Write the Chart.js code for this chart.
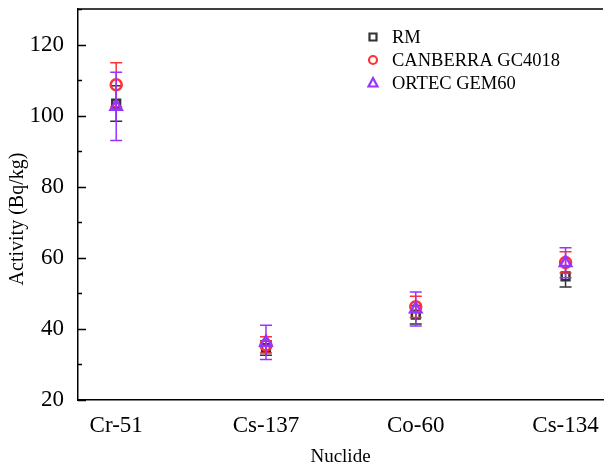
<!DOCTYPE html>
<html>
<head>
<meta charset="utf-8">
<script src="https://cdn.jsdelivr.net/npm/chart.js@4.4.1/dist/chart.umd.min.js"></script>
<style>
  html, body { margin: 0; padding: 0; background: #fff; }
  #wrap { width: 612px; height: 468px; }
</style>
</head>
<body>
<div id="wrap"><canvas id="nuclideChart" width="612" height="468"></canvas></div>
<script>
// nuclides on the x axis
var nuclides = ['Cr-51', 'Cs-137', 'Co-60', 'Cs-134'];

// activity values (Bq/kg) and their uncertainties
var rmValues = [103.4, 34.6, 44.0, 54.8];
var rmErrors = [5.0, 2.0, 2.6, 3.0];
var canberraValues = [108.7, 35.5, 46.2, 58.7];
var canberraErrors = [6.2, 2.3, 3.0, 3.0];
var ortecValues = [102.6, 36.2, 45.6, 58.6];
var ortecErrors = [9.6, 4.8, 4.8, 4.2];

var yTicks = [20, 40, 60, 80, 100, 120];

var serif = "'Liberation Serif', 'Times New Roman', serif";

function toPoints(values) {
    return values.map(function (v, i) { return { x: i + 1, y: v }; });
}

var errorBars = {
    id: 'errorBars',
    afterDatasetDraw: function (chart, args) {
        var ds = chart.data.datasets[args.index];
        if (!ds.errors) return;
        var ctx = chart.ctx;
        var xs = chart.scales.x, ys = chart.scales.y;
        ctx.save();
        ctx.strokeStyle = ds.borderColor;
        ctx.lineWidth = 1.5;
        ds.data.forEach(function (p, i) {
            var px = xs.getPixelForValue(p.x);
            var top = ys.getPixelForValue(p.y + ds.errors[i]);
            var bot = ys.getPixelForValue(p.y - ds.errors[i]);
            ctx.beginPath();
            ctx.moveTo(px, top); ctx.lineTo(px, bot);
            ctx.moveTo(px - 6, top); ctx.lineTo(px + 6, top);
            ctx.moveTo(px - 6, bot); ctx.lineTo(px + 6, bot);
            ctx.stroke();
        });
        ctx.restore();
    }
};

var frame = {
    id: 'frame',
    afterDraw: function (chart) {
        var ctx = chart.ctx, a = chart.chartArea, ys = chart.scales.y;
        ctx.save();
        ctx.strokeStyle = '#000';
        ctx.lineWidth = 1.5;
        ctx.beginPath();
        ctx.moveTo(a.left, a.top); ctx.lineTo(a.right, a.top);
        // inward ticks on the y axis
        for (var v = 20; v <= 130; v += 10) {
            var py = Math.round(ys.getPixelForValue(v)) + 0.5;
            var len = (v % 20 === 0) ? 8 : 4;
            ctx.moveTo(a.left, py); ctx.lineTo(a.left + len, py);
        }
        ctx.stroke();

        // y axis title, sits a bit below the middle like the original
        ctx.save();
        ctx.translate(18, 219);
        ctx.rotate(-Math.PI / 2);
        ctx.font = '20px ' + serif;
        ctx.textAlign = 'center';
        ctx.textBaseline = 'middle';
        ctx.fillStyle = '#000';
        ctx.fillText('Activity (Bq/kg)', 0, 0);
        ctx.restore();

        // legend
        var items = chart.data.datasets;
        ctx.font = '18.5px ' + serif;
        ctx.textBaseline = 'middle';
        ctx.fillStyle = '#000';
        items.forEach(function (ds, i) {
            var y = 37 + i * 23;
            var x = 373;
            ctx.strokeStyle = ds.borderColor;
            ctx.lineWidth = 2.2;
            ctx.beginPath();
            if (ds.pointStyle === 'rect') {
                ctx.rect(x - 3.5, y - 3.5, 7, 7);
            } else if (ds.pointStyle === 'circle') {
                ctx.arc(x, y, 4, 0, Math.PI * 2);
            } else {
                ctx.moveTo(x, y - 5); ctx.lineTo(x + 4.5, y + 3.5); ctx.lineTo(x - 4.5, y + 3.5); ctx.closePath();
            }
            ctx.stroke();
            ctx.fillText(ds.label, 392, y + 1);
        });
        ctx.restore();
    }
};

new Chart(document.getElementById('nuclideChart'), {
    type: 'scatter',
    data: {
        datasets: [{
            label: 'RM',
            data: toPoints(rmValues),
            errors: rmErrors,
            pointStyle: 'rect',
            pointRadius: 5.5,
            borderColor: '#333333',
            backgroundColor: 'rgba(0,0,0,0)',
            borderWidth: 2.5,
            order: 3
        }, {
            label: 'CANBERRA GC4018',
            data: toPoints(canberraValues),
            errors: canberraErrors,
            pointStyle: 'circle',
            pointRadius: 5.5,
            borderColor: '#ff3333',
            backgroundColor: 'rgba(0,0,0,0)',
            borderWidth: 2.5,
            order: 2
        }, {
            label: 'ORTEC GEM60',
            data: toPoints(ortecValues),
            errors: ortecErrors,
            pointStyle: 'triangle',
            pointRadius: 6.5,
            borderColor: '#9933ff',
            backgroundColor: 'rgba(0,0,0,0)',
            borderWidth: 2.5,
            order: 1
        }]
    },
    options: {
        responsive: false,
        animation: false,
        layout: { padding: { top: 8, right: 0, left: 0, bottom: 0 } },
        plugins: {
            legend: { display: false },
            tooltip: { enabled: false }
        },
        scales: {
            x: {
                type: 'linear',
                min: 0.745,
                max: 4.25,
                afterBuildTicks: function (axis) {
                    axis.ticks = nuclides.map(function (n, i) { return { value: i + 1 }; });
                },
                afterFit: function (axis) {
                    axis.height = 68;
                    axis.paddingLeft = 0;
                    axis.paddingRight = 0;
                },
                ticks: {
                    callback: function (v) { return nuclides[v - 1]; },
                    color: '#000',
                    font: { family: serif, size: 23 },
                    padding: 4,
                    maxRotation: 0
                },
                grid: { display: false },
                border: { display: true, color: '#000', width: 1.5 },
                title: {
                    display: true,
                    text: 'Nuclide',
                    color: '#000',
                    font: { family: serif, size: 19 },
                    padding: { top: 8, bottom: 0 }
                }
            },
            y: {
                min: 20,
                max: 130,
                afterBuildTicks: function (axis) {
                    axis.ticks = yTicks.map(function (t) { return { value: t }; });
                },
                afterFit: function (axis) {
                    axis.width = 78;
                    axis.paddingTop = 0;
                    axis.paddingBottom = 0;
                },
                ticks: {
                    color: '#000',
                    font: { family: serif, size: 23 },
                    padding: 6
                },
                grid: { display: false },
                border: { display: true, color: '#000', width: 1.5 },
                title: { display: false }
            }
        }
    },
    plugins: [errorBars, frame]
});
</script>
</body>
</html>
